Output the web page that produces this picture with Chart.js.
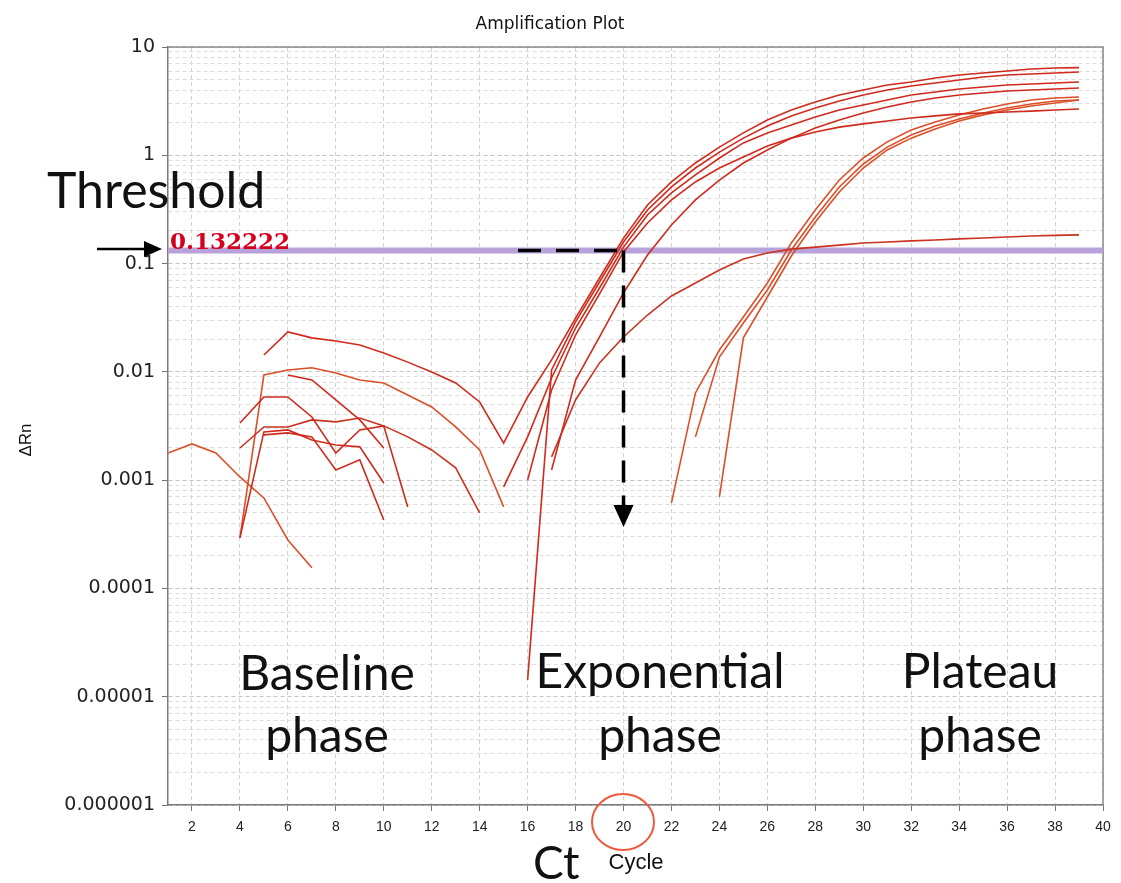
<!DOCTYPE html>
<html>
<head>
<meta charset="utf-8">
<title>Amplification Plot</title>
<script src="https://cdn.jsdelivr.net/npm/chart.js@4.4.1/dist/chart.umd.min.js"></script>
<style>
  html, body { margin: 0; padding: 0; background: #fff; }
  #wrap { width: 1121px; height: 883px; }
</style>
</head>
<body>
<div id="wrap"><canvas id="ampChart" width="1121" height="883"></canvas></div>
<script>
// Cycle numbers, one value per cycle in each well (null = nothing plotted)
let cycles = [1, 2, 3, 4, 5, 6, 7, 8, 9, 10, 11, 12, 13, 14, 15, 16, 17, 18, 19, 20,
              21, 22, 23, 24, 25, 26, 27, 28, 29, 30, 31, 32, 33, 34, 35, 36, 37, 38, 39];

let well1 = [null, null, null, null, 0.0143, 0.0234, 0.0206, 0.0193, 0.0177, 0.0149,
             0.0123, 0.00998, 0.0079, 0.00527, 0.0022, 0.00586, 0.0129, 0.0314, 0.0736, 0.172,
             0.348, 0.567, 0.849, 1.19, 1.61, 2.12, 2.62, 3.10, 3.60, 4.01,
             4.46, 4.75, 5.17, 5.51, 5.75, 6.00, 6.26, 6.40, 6.45];
let well2 = [null, null, null, null, 0.00262, 0.00273, 0.00251, 0.00124, 0.00154, 0.000429,
             null, null, null, null, 0.000866, 0.00251, 0.00878, 0.0254, 0.0595, 0.142,
             0.281, 0.449, 0.658, 0.944, 1.30, 1.61, 1.90, 2.26, 2.62, 2.91,
             3.24, 3.60, 3.84, 4.10, 4.27, 4.46, 4.55, 4.65, 4.75];
let well3 = [null, null, null, null, null, 0.00936, 0.00841, 0.0055, 0.0036, 0.00198,
             null, null, null, null, null, 0.001, 0.00681, 0.0219, 0.0524, 0.128,
             0.237, 0.387, 0.567, 0.763, 0.964, 1.22, 1.44, 1.64, 1.82, 1.95,
             2.07, 2.21, 2.31, 2.41, 2.46, 2.51, 2.56, 2.62, 2.68];
let well4 = [null, null, null, 0.00337, 0.00586, 0.00586, 0.00383, 0.00178, 0.00291, 0.00317,
             0.000566, null, null, null, null, 0.0000143, 0.0104, 0.0289, 0.0676, 0.158,
             0.313, 0.51, 0.763, 1.07, 1.44, 1.86, 2.31, 2.73, 3.17, 3.60,
             4.01, 4.36, 4.65, 4.96, 5.28, 5.51, 5.63, 5.75, 5.88];
let well5 = [null, null, null, 0.000293, 0.00279, 0.00291, 0.00235, 0.00211, 0.00203, 0.000942,
             null, null, null, null, null, null, 0.00124, 0.00841, 0.021, 0.0535,
             0.12, 0.227, 0.387, 0.591, 0.849, 1.12, 1.44, 1.79, 2.12, 2.46,
             2.79, 3.10, 3.38, 3.60, 3.76, 3.92, 4.01, 4.10, 4.18];
let well6 = [null, null, null, 0.00198, 0.0031, 0.0031, 0.0036, 0.00345, 0.00375, 0.00317,
             0.00251, 0.0019, 0.0013, 0.000498, null, null, 0.00164, 0.0055, 0.0121, 0.021,
             0.0335, 0.0502, 0.0662, 0.0873, 0.11, 0.125, 0.136, 0.142, 0.148, 0.155,
             0.158, 0.162, 0.165, 0.169, 0.172, 0.176, 0.18, 0.182, 0.184];
let well7 = [0.00178, 0.00216, 0.00178, 0.00107, 0.000685, 0.00028, 0.000155, null, null, null,
             null, null, null, null, null, null, null, null, null, null,
             null, 0.000616, 0.00639, 0.0159, 0.0321, 0.0662, 0.155, 0.313, 0.591, 0.944,
             1.33, 1.71, 2.03, 2.36, 2.68, 2.98, 3.24, 3.38, 3.45];
let well8 = [null, null, null, 0.000293, 0.00936, 0.0104, 0.0109, 0.00977, 0.00841, 0.0079,
             0.00612, 0.00474, 0.0031, 0.0019, 0.000566, null, null, null, null, null,
             null, null, 0.00251, 0.0137, 0.0283, 0.057, 0.1335, 0.269, 0.51, 0.831,
             1.19, 1.54, 1.86, 2.16, 2.46, 2.73, 2.98, 3.17, 3.24];
let well9 = [null, null, null, null, null, null, null, null, null, null,
             null, null, null, null, null, null, null, null, null, null,
             null, null, null, 0.0007, 0.0206, 0.0491, 0.1175, 0.242, 0.458, 0.763,
             1.12, 1.44, 1.75, 2.07, 2.36, 2.62, 2.85, 3.04, 3.24];

let thresholdValue = 0.132222;
let ctCycle = 20;
let ctDashStart = 15.6;     // where the dashed guide starts on the threshold
let ctArrowBase = 0.00059;  // dashed drop line ends here
let ctArrowTip = 0.00037;

let xTicks = [2, 4, 6, 8, 10, 12, 14, 16, 18, 20, 22, 24, 26, 28, 30, 32, 34, 36, 38, 40];
let yDecades = [0.000001, 0.00001, 0.0001, 0.001, 0.01, 0.1, 1, 10];

// log grid: 1..9 in every decade
let yTicks = [];
yDecades.forEach((d, i) => {
    if (i === yDecades.length - 1) { yTicks.push(d); return; }
    for (let m = 1; m <= 9; m++) yTicks.push(Number((m * d).toPrecision(3)));
});

function isDecade(v) {
    return yDecades.some(d => Math.abs(d - v) / d < 1e-6);
}
function decadeLabel(v) {
    let e = Math.round(Math.log10(v));
    return e >= 0 ? String(Math.round(v)) : v.toFixed(-e);
}

let earlyRed = '#cf2a1c';
let lateRed = '#db4f28';

let wells = [
    { name: 'Well 1', values: well1, color: earlyRed },
    { name: 'Well 2', values: well2, color: earlyRed },
    { name: 'Well 3', values: well3, color: earlyRed },
    { name: 'Well 4', values: well4, color: earlyRed },
    { name: 'Well 5', values: well5, color: earlyRed },
    { name: 'Well 6', values: well6, color: '#c8321f' },
    { name: 'Well 7', values: well7, color: lateRed },
    { name: 'Well 8', values: well8, color: lateRed },
    { name: 'Well 9', values: well9, color: lateRed }
];

let datasets = wells.map(w => ({
    label: w.name,
    data: cycles.map((c, i) => ({ x: c, y: w.values[i] })),
    borderColor: w.color,
    borderWidth: 1.6,
    pointRadius: 0,
    tension: 0,
    spanGaps: false,
    fill: false
}));

// threshold line goes last so it is painted underneath the curves
datasets.push({
    label: 'Threshold',
    data: [{ x: 1, y: thresholdValue }, { x: 40, y: thresholdValue }],
    borderColor: '#b9a2d9',
    borderWidth: 6,
    pointRadius: 0,
    fill: false
});

let frame = {
    id: 'frame',
    beforeDatasetsDraw(chart) {
        let a = chart.chartArea, ctx = chart.ctx;
        ctx.save();
        ctx.strokeStyle = '#8a8a8a';
        ctx.lineWidth = 1.5;
        ctx.beginPath();
        ctx.moveTo(a.left, a.top);
        ctx.lineTo(a.right, a.top);
        ctx.lineTo(a.right, a.bottom);
        ctx.stroke();
        ctx.restore();
    }
};

let annotations = {
    id: 'annotations',
    afterDatasetsDraw(chart) {
        let ctx = chart.ctx, xs = chart.scales.x, ys = chart.scales.y;
        let yT = ys.getPixelForValue(thresholdValue);
        let xCt = xs.getPixelForValue(ctCycle);
        let yBase = ys.getPixelForValue(ctArrowBase);
        let yTip = ys.getPixelForValue(ctArrowTip);
        ctx.save();
        ctx.strokeStyle = '#000';
        ctx.lineWidth = 3.5;
        ctx.setLineDash([23, 15]);
        ctx.beginPath();
        ctx.moveTo(xs.getPixelForValue(ctDashStart), yT);
        ctx.lineTo(xCt, yT);
        ctx.stroke();
        ctx.setLineDash([22, 13]);
        ctx.beginPath();
        ctx.moveTo(xCt, yT);
        ctx.lineTo(xCt, yBase);
        ctx.stroke();
        ctx.setLineDash([]);
        ctx.fillStyle = '#000';
        ctx.beginPath();
        ctx.moveTo(xCt - 10, yBase);
        ctx.lineTo(xCt + 10, yBase);
        ctx.lineTo(xCt, yTip);
        ctx.closePath();
        ctx.fill();
        ctx.restore();
    },
    afterDraw(chart) {
        let ctx = chart.ctx;
        ctx.save();
        ctx.fillStyle = '#111';
        ctx.textBaseline = 'alphabetic';

        ctx.font = '17px "DejaVu Sans", Verdana, sans-serif';
        ctx.textAlign = 'center';
        ctx.fillText('Amplification Plot', 550, 29);

        ctx.save();
        ctx.translate(31, 440);
        ctx.rotate(-Math.PI / 2);
        ctx.font = '17px "Liberation Sans", Arial, sans-serif';
        ctx.fillText('\u0394Rn', 0, 0);
        ctx.restore();

        ctx.font = '22px "Liberation Sans", Arial, sans-serif';
        ctx.fillText('Cycle', 636, 869);

        ctx.font = '48px Lato, "Open Sans", sans-serif';
        ctx.fillText('Baseline', 327, 690);
        ctx.fillText('phase', 327, 752);
        ctx.fillText('Exponential', 660, 688);
        ctx.fillText('phase', 660, 752);
        ctx.fillText('Plateau', 980, 688);
        ctx.fillText('phase', 980, 752);

        ctx.textAlign = 'left';
        ctx.font = '46px Lato, "Open Sans", sans-serif';
        ctx.fillText('Ct', 533, 879);
        ctx.font = '50px Lato, "Open Sans", sans-serif';
        ctx.fillText('Threshold', 47, 208);

        ctx.fillStyle = '#d6001c';
        ctx.font = 'bold 23px "DejaVu Serif", "Liberation Serif", serif';
        ctx.fillText('0.132222', 170, 249);

        // arrow pointing at the threshold value
        ctx.strokeStyle = '#000';
        ctx.fillStyle = '#000';
        ctx.lineWidth = 2.5;
        ctx.beginPath();
        ctx.moveTo(97, 249);
        ctx.lineTo(148, 249);
        ctx.stroke();
        ctx.beginPath();
        ctx.moveTo(162, 249);
        ctx.lineTo(144, 241);
        ctx.lineTo(144, 257);
        ctx.closePath();
        ctx.fill();

        // circle round the Ct cycle label
        ctx.strokeStyle = '#f05a3c';
        ctx.lineWidth = 2;
        ctx.beginPath();
        ctx.ellipse(623, 822, 31, 28, 0, 0, Math.PI * 2);
        ctx.stroke();
        ctx.restore();
    }
};

let ctx = document.getElementById('ampChart').getContext('2d');
let ampChart = new Chart(ctx, {
    type: 'line',
    data: { datasets: datasets },
    options: {
        responsive: false,
        animation: false,
        layout: { padding: { top: 47, right: 18, left: 0, bottom: 0 } },
        plugins: {
            legend: { display: false },
            tooltip: { enabled: false },
            title: { display: false }
        },
        scales: {
            x: {
                type: 'linear',
                min: 1,
                max: 40,
                afterBuildTicks: s => { s.ticks = xTicks.map(v => ({ value: v })); },
                afterFit: s => { s.height = 78; },
                ticks: {
                    autoSkip: false,
                    maxRotation: 0,
                    padding: 8,
                    color: '#222',
                    font: { family: '"Liberation Sans Narrow", "Liberation Sans", Arial', size: 14 }
                },
                grid: { color: '#d2d2d2', lineWidth: 1, tickLength: 6, tickColor: '#777' },
                border: { display: true, color: '#7a7a7a', width: 1.5, dash: [4, 3] }
            },
            y: {
                type: 'logarithmic',
                min: 0.000001,
                max: 10,
                afterBuildTicks: s => { s.ticks = yTicks.map(v => ({ value: v })); },
                afterFit: s => { s.width = 168; },
                ticks: {
                    autoSkip: false,
                    padding: 7,
                    color: '#222',
                    font: { family: '"DejaVu Sans", Verdana, sans-serif', size: 19 },
                    callback: v => isDecade(v) ? decadeLabel(v) : ''
                },
                grid: {
                    color: c => isDecade(c.tick.value) ? '#c4c4c4' : '#dcdcdc',
                    lineWidth: 1,
                    tickLength: 6,
                    tickColor: c => isDecade(c.tick.value) ? '#777' : 'rgba(0,0,0,0)'
                },
                border: { display: true, color: '#7a7a7a', width: 1.5, dash: [4, 3] }
            }
        }
    },
    plugins: [frame, annotations]
});
</script>
</body>
</html>
